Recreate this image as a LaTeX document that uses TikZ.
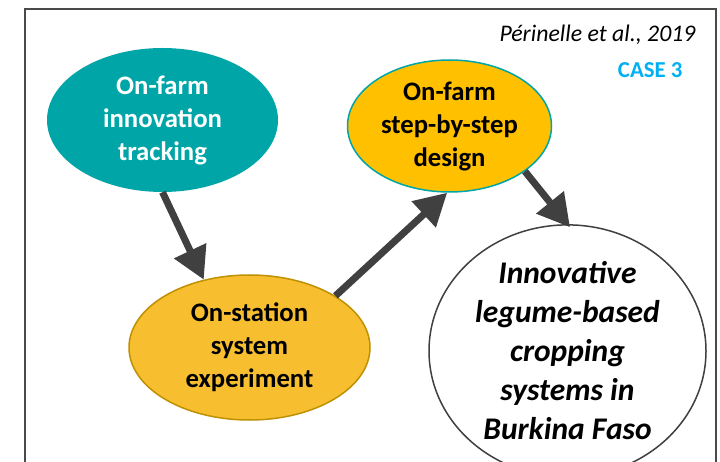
\documentclass[tikz,border=0pt]{standalone}
\usepackage{fontspec}
\setmainfont{Carlito}
\usetikzlibrary{shapes.geometric,arrows.meta}

\definecolor{tealfill}{HTML}{00A5A8}
\definecolor{goldfill}{HTML}{FFC000}
\definecolor{ambfill}{HTML}{F7BF30}
\definecolor{ambline}{HTML}{BF9000}
\definecolor{arrgray}{HTML}{404040}
\definecolor{framegray}{HTML}{4A4A4A}
\definecolor{casecol}{HTML}{00B0F0}

\tikzset{
  bubble/.style={ellipse, inner sep=0pt, align=center,
    font=\bfseries\fontsize{26.7}{33}\selectfont},
  flow/.style={arrgray, line width=7pt,
    -{Triangle[length=32pt,width=34pt]}},
}

\begin{document}
\begin{tikzpicture}[x=1pt,y=-1pt]
  \useasboundingbox (0,0) rectangle (720,462);
  \fill[white] (0,0) rectangle (720,462);

  % outer frame, open at the bottom
  \draw[framegray, line width=2pt] (24.5,480) -- (24.5,9.5) -- (715.5,9.5) -- (715.5,480);

  % reference and case label
  \node[anchor=base east, font=\itshape\fontsize{23.8}{28}\selectfont] (cite) at (699,42) {Périnelle et al., 2019};
  \node[anchor=base east, text=casecol, font=\bfseries\fontsize{22.8}{27}\selectfont] (case) at (686,78) {CASE 3};

  % stages
  \node[bubble, fill=tealfill, text=white, minimum width=231pt, minimum height=144pt] (track) at (162.5,120)
    {On-farm\\innovation\\tracking};
  \node[bubble, fill=goldfill, draw=tealfill, line width=1.5pt, minimum width=204pt, minimum height=132pt] (design) at (449.5,126)
    {On-farm\\step-by-step\\design};
  \node[bubble, fill=ambfill, draw=ambline, line width=1.5pt, minimum width=241pt, minimum height=145pt] (station) at (249.5,347.5)
    {On-station\\system\\experiment};
  \node[ellipse, inner sep=0pt, align=center, draw=arrgray, line width=1.5pt, fill=white,
        minimum width=277pt, minimum height=220pt,
        font=\bfseries\itshape\fontsize{31.5}{39}\selectfont] (result) at (567.5,351)
    {Innovative\\legume-based\\cropping\\systems in\\Burkina Faso};

  % flow between stages
  \draw[flow] (track.south) -- (station.124);
  \draw[flow] (station.31) -- (design.268);
  \draw[flow, shorten >=-4pt] (design.-31) -- (result.north);
\end{tikzpicture}
\end{document}
